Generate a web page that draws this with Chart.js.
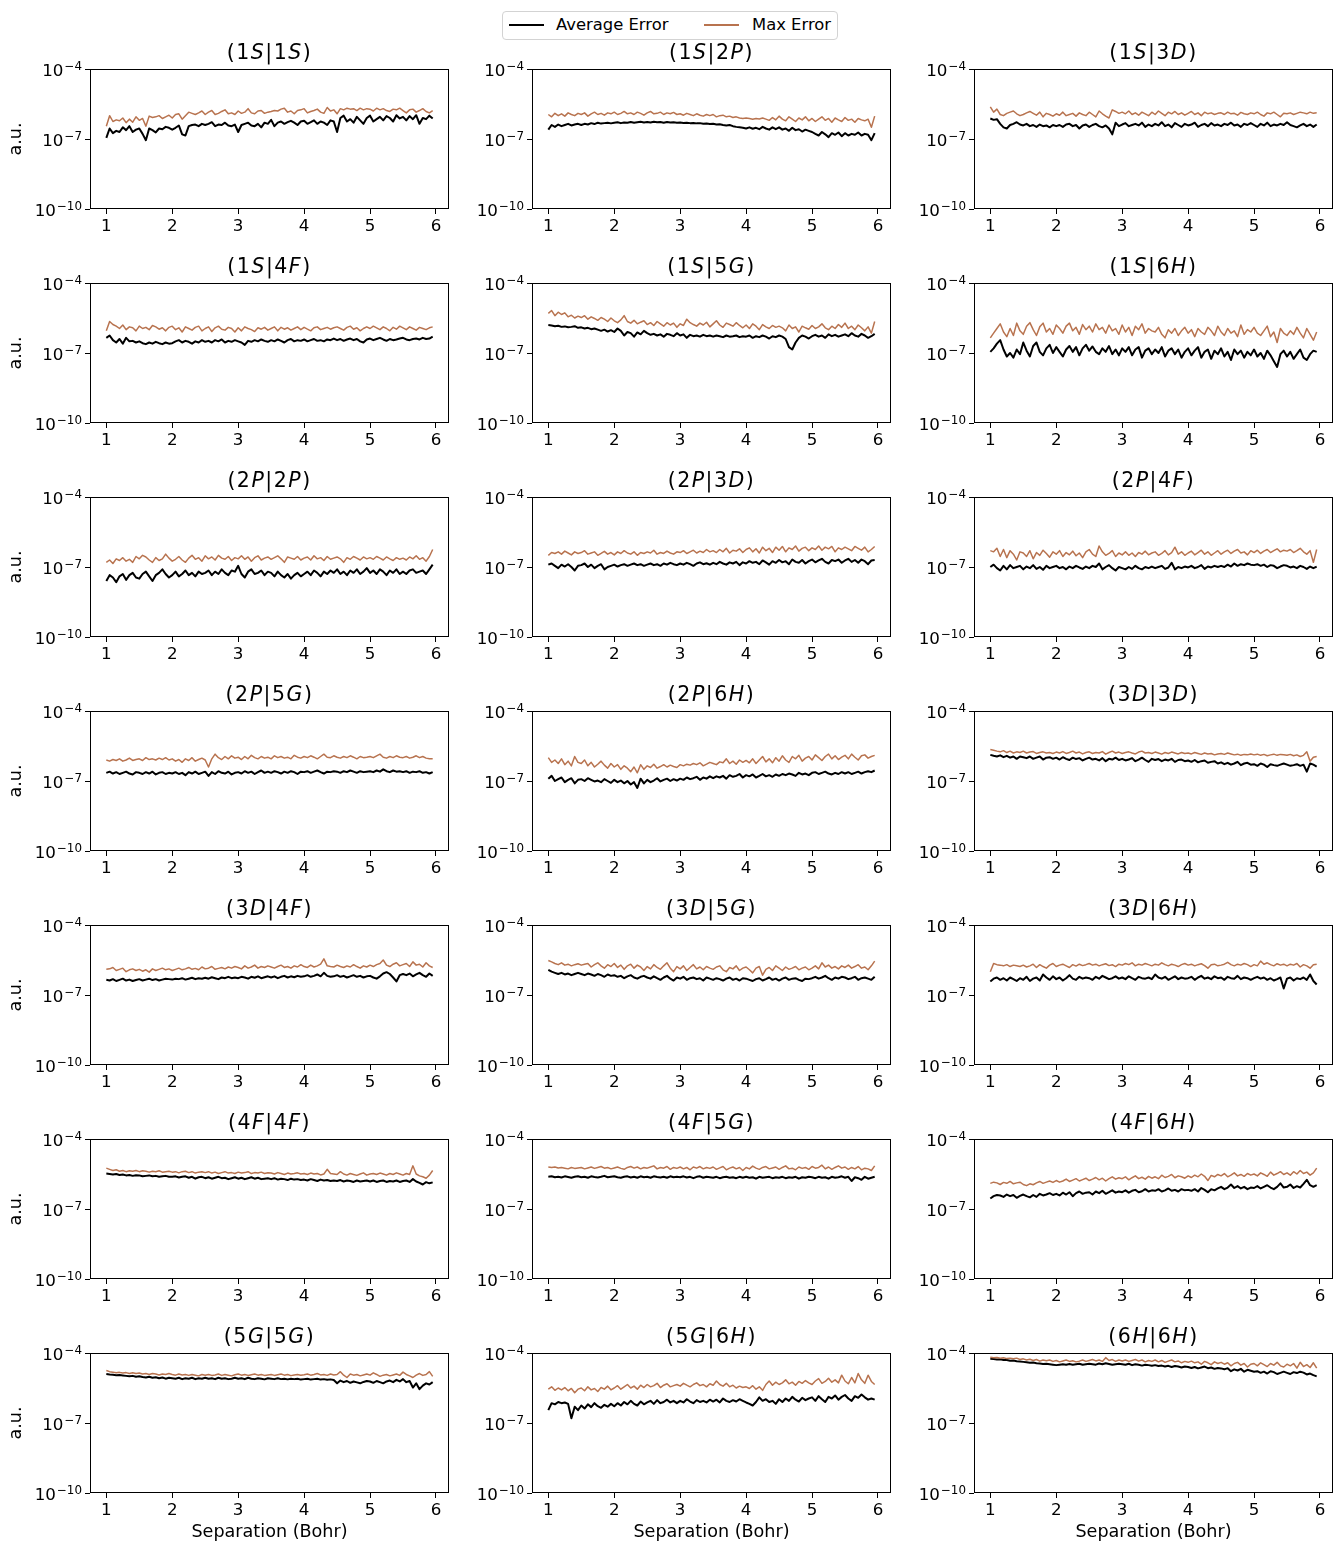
<!DOCTYPE html>
<html>
<head>
<meta charset="utf-8">
<script src="https://cdn.jsdelivr.net/npm/chart.js@4.4.0/dist/chart.umd.min.js"></script>
<style>
  body { margin: 0; background: #fff; font-family: "DejaVu Sans", sans-serif; }
  #fig { position: relative; width: 1336px; height: 1545px; overflow: hidden; background: #fff; }
  #fig canvas { position: absolute; }
  .ttl { position: absolute; width: 359px; text-align: center; font-size: 20.5px; line-height: 20px;
         letter-spacing: 1.5px; color: #000; white-space: nowrap; }
  #legend { position: absolute; left: 502px; top: 11px; width: 334px; height: 27px;
            border: 1px solid #d3d3d3; border-radius: 4px; background: #fff; }
  .lg-line { position: absolute; top: 12px; width: 35px; }
  .lg-txt { position: absolute; top: 3px; font-size: 16.4px; line-height: 20px; color: #000; white-space: nowrap; }
</style>
</head>
<body>
<div id="fig">
  <div id="legend">
    <span class="lg-line" style="left:6px;height:2px;background:#000"></span>
    <span class="lg-txt" style="left:53px">Average Error</span>
    <span class="lg-line" style="left:201px;height:1.5px;background:#b8734f"></span>
    <span class="lg-txt" style="left:249px">Max Error</span>
  </div>
</div>
<script>
// Separation values (Bohr)
const SEP = [
  1.00, 1.05, 1.10, 1.15, 1.20, 1.25, 1.30, 1.35, 1.40, 1.45,
  1.50, 1.55, 1.60, 1.65, 1.70, 1.75, 1.80, 1.85, 1.90, 1.95,
  2.00, 2.05, 2.10, 2.15, 2.20, 2.25, 2.30, 2.35, 2.40, 2.45,
  2.50, 2.55, 2.60, 2.65, 2.70, 2.75, 2.80, 2.85, 2.90, 2.95,
  3.00, 3.05, 3.10, 3.15, 3.20, 3.25, 3.30, 3.35, 3.40, 3.45,
  3.50, 3.55, 3.60, 3.65, 3.70, 3.75, 3.80, 3.85, 3.90, 3.95,
  4.00, 4.05, 4.10, 4.15, 4.20, 4.25, 4.30, 4.35, 4.40, 4.45,
  4.50, 4.55, 4.60, 4.65, 4.70, 4.75, 4.80, 4.85, 4.90, 4.95,
  5.00, 5.05, 5.10, 5.15, 5.20, 5.25, 5.30, 5.35, 5.40, 5.45,
  5.50, 5.55, 5.60, 5.65, 5.70, 5.75, 5.80, 5.85, 5.90, 5.95
];

// All errors stored as log10(a.u.)
const AVG_1S_1S = [
  -6.95,-6.55,-6.75,-6.65,-6.70,-6.50,-6.62,-6.45,-6.70,-6.60,
  -6.55,-6.78,-7.05,-6.55,-6.62,-6.72,-6.55,-6.58,-6.48,-6.52,
  -6.60,-6.52,-6.42,-6.80,-6.85,-6.45,-6.40,-6.38,-6.45,-6.35,
  -6.40,-6.35,-6.28,-6.45,-6.38,-6.40,-6.30,-6.42,-6.45,-6.38,
  -6.70,-6.40,-6.35,-6.30,-6.42,-6.45,-6.35,-6.50,-6.30,-6.35,
  -6.18,-6.45,-6.30,-6.25,-6.35,-6.28,-6.22,-6.30,-6.40,-6.25,
  -6.22,-6.35,-6.28,-6.20,-6.35,-6.25,-6.30,-6.40,-6.20,-6.25,
  -6.70,-6.10,-6.00,-6.25,-6.15,-6.30,-6.05,-6.20,-6.35,-6.10,
  -6.00,-6.25,-6.15,-6.05,-6.20,-6.02,-6.10,-6.25,-5.98,-6.12,
  -6.05,-6.20,-6.02,-6.15,-5.98,-6.35,-6.10,-6.15,-6.00,-6.12
];
const MAX_1S_1S = [
  -6.45,-6.00,-6.25,-6.18,-6.22,-6.10,-6.30,-6.15,-6.28,-6.05,
  -6.20,-6.12,-6.45,-6.02,-6.08,-6.05,-6.00,-6.12,-6.05,-5.98,
  -6.10,-5.95,-5.92,-6.15,-6.00,-5.85,-5.90,-5.95,-5.88,-5.80,
  -5.95,-5.85,-5.78,-5.95,-5.90,-5.82,-5.75,-5.92,-5.88,-5.95,
  -5.80,-5.90,-5.85,-5.70,-5.88,-5.92,-5.80,-5.78,-5.90,-5.85,
  -5.82,-5.78,-5.80,-5.72,-5.68,-5.85,-5.80,-5.92,-5.78,-5.75,
  -5.70,-5.88,-5.82,-5.78,-5.72,-5.85,-5.90,-5.65,-5.80,-5.75,
  -5.92,-5.70,-5.75,-5.68,-5.72,-5.70,-5.78,-5.68,-5.75,-5.70,
  -5.72,-5.80,-5.68,-5.75,-5.70,-5.78,-5.82,-5.72,-5.75,-5.68,
  -5.78,-5.88,-5.75,-5.72,-5.85,-5.78,-5.70,-5.82,-5.88,-5.78
];

const AVG_1S_2P = [
  -6.60,-6.40,-6.48,-6.38,-6.45,-6.40,-6.35,-6.42,-6.38,-6.35,
  -6.40,-6.35,-6.38,-6.32,-6.36,-6.30,-6.34,-6.32,-6.30,-6.33,
  -6.30,-6.28,-6.32,-6.29,-6.30,-6.27,-6.30,-6.28,-6.26,-6.29,
  -6.27,-6.29,-6.26,-6.28,-6.27,-6.30,-6.27,-6.29,-6.28,-6.30,
  -6.29,-6.31,-6.30,-6.32,-6.31,-6.33,-6.32,-6.35,-6.34,-6.36,
  -6.35,-6.38,-6.37,-6.40,-6.42,-6.40,-6.45,-6.48,-6.50,-6.52,
  -6.55,-6.50,-6.56,-6.52,-6.58,-6.48,-6.55,-6.60,-6.50,-6.58,
  -6.50,-6.60,-6.55,-6.65,-6.52,-6.62,-6.58,-6.68,-6.60,-6.65,
  -6.70,-6.78,-6.85,-6.70,-6.80,-6.92,-6.75,-6.82,-6.72,-6.88,
  -6.75,-6.85,-6.78,-6.82,-6.72,-6.85,-6.78,-6.82,-7.05,-6.75
];
const MAX_1S_2P = [
  -5.95,-6.05,-5.90,-6.00,-5.92,-6.02,-5.88,-5.95,-6.00,-5.90,
  -5.95,-5.88,-6.02,-5.92,-5.85,-5.95,-5.90,-5.98,-5.88,-5.92,
  -5.85,-5.95,-5.90,-5.82,-5.92,-5.88,-5.95,-5.85,-5.90,-5.98,
  -5.88,-5.82,-5.92,-5.90,-5.85,-5.95,-5.88,-5.92,-5.86,-5.95,
  -5.92,-5.98,-5.90,-5.95,-6.00,-5.92,-5.98,-6.02,-5.95,-6.00,
  -5.95,-6.05,-6.00,-5.98,-6.05,-6.02,-6.08,-6.05,-6.10,-6.12,
  -6.10,-6.12,-6.15,-6.12,-6.14,-6.10,-6.15,-6.20,-6.08,-6.18,
  -6.02,-6.15,-6.22,-6.05,-6.15,-6.25,-6.10,-6.18,-6.05,-6.22,
  -6.12,-6.25,-6.15,-6.05,-6.20,-6.12,-6.28,-6.10,-6.18,-6.25,
  -6.08,-6.20,-6.15,-6.28,-6.12,-6.18,-6.22,-6.15,-6.50,-6.02
];

const AVG_1S_3D = [
  -6.12,-6.18,-6.15,-6.35,-6.50,-6.55,-6.40,-6.35,-6.28,-6.38,
  -6.42,-6.35,-6.45,-6.40,-6.48,-6.38,-6.45,-6.42,-6.50,-6.40,
  -6.45,-6.40,-6.48,-6.38,-6.35,-6.45,-6.40,-6.55,-6.42,-6.38,
  -6.48,-6.40,-6.35,-6.45,-6.50,-6.42,-6.55,-6.80,-6.30,-6.45,
  -6.38,-6.32,-6.45,-6.40,-6.35,-6.42,-6.30,-6.48,-6.38,-6.45,
  -6.35,-6.42,-6.28,-6.45,-6.38,-6.50,-6.32,-6.40,-6.48,-6.35,
  -6.42,-6.38,-6.30,-6.48,-6.40,-6.35,-6.45,-6.32,-6.42,-6.38,
  -6.45,-6.35,-6.40,-6.30,-6.42,-6.38,-6.48,-6.35,-6.40,-6.32,
  -6.40,-6.48,-6.35,-6.42,-6.30,-6.45,-6.38,-6.42,-6.35,-6.40,
  -6.28,-6.40,-6.45,-6.50,-6.42,-6.35,-6.45,-6.38,-6.48,-6.38
];
const MAX_1S_3D = [
  -5.62,-5.85,-5.72,-5.95,-6.00,-5.90,-5.85,-5.80,-5.92,-6.00,
  -5.95,-5.88,-5.82,-5.90,-5.98,-5.85,-6.05,-5.90,-5.95,-6.02,
  -5.92,-5.98,-5.85,-6.00,-5.95,-5.90,-6.02,-5.88,-5.95,-6.00,
  -5.85,-5.95,-6.05,-5.80,-5.92,-6.02,-6.10,-5.75,-5.82,-5.90,
  -5.85,-5.92,-5.80,-5.95,-5.88,-5.98,-5.85,-5.92,-6.00,-5.85,
  -5.95,-5.80,-5.90,-6.00,-5.85,-5.92,-5.82,-5.95,-5.88,-5.98,
  -5.90,-5.82,-5.95,-5.88,-6.00,-5.85,-5.92,-5.88,-5.95,-5.90,
  -5.88,-5.95,-5.85,-5.92,-5.90,-5.98,-5.86,-5.92,-5.95,-5.88,
  -5.92,-5.85,-5.95,-6.02,-5.88,-5.92,-5.85,-5.95,-6.05,-5.90,
  -5.92,-5.88,-5.95,-5.90,-5.85,-5.88,-5.92,-5.85,-5.90,-5.88
];

const AVG_1S_4F = [
  -6.35,-6.25,-6.45,-6.55,-6.40,-6.60,-6.35,-6.50,-6.48,-6.55,
  -6.50,-6.58,-6.62,-6.55,-6.60,-6.52,-6.58,-6.62,-6.55,-6.60,
  -6.58,-6.50,-6.45,-6.55,-6.48,-6.52,-6.60,-6.50,-6.55,-6.45,
  -6.52,-6.48,-6.55,-6.45,-6.50,-6.42,-6.55,-6.48,-6.52,-6.45,
  -6.50,-6.55,-6.65,-6.48,-6.52,-6.45,-6.50,-6.42,-6.48,-6.52,
  -6.45,-6.50,-6.42,-6.48,-6.55,-6.45,-6.40,-6.50,-6.45,-6.48,
  -6.42,-6.50,-6.45,-6.40,-6.48,-6.45,-6.50,-6.42,-6.45,-6.38,
  -6.45,-6.40,-6.48,-6.42,-6.38,-6.45,-6.40,-6.50,-6.55,-6.42,
  -6.38,-6.45,-6.40,-6.35,-6.42,-6.48,-6.40,-6.45,-6.42,-6.38,
  -6.35,-6.42,-6.45,-6.40,-6.38,-6.42,-6.35,-6.40,-6.38,-6.30
];
const MAX_1S_4F = [
  -6.05,-5.65,-5.78,-5.85,-5.95,-5.80,-6.00,-5.88,-5.92,-6.05,
  -5.85,-5.95,-5.90,-6.00,-5.82,-5.88,-5.98,-5.92,-6.05,-5.90,
  -5.85,-6.00,-5.92,-6.10,-5.88,-5.95,-6.02,-5.90,-5.85,-6.05,
  -5.95,-5.88,-6.08,-5.92,-5.85,-5.98,-6.02,-5.90,-5.95,-6.10,
  -5.92,-6.05,-5.88,-5.95,-6.00,-6.08,-5.92,-5.98,-5.90,-6.02,
  -5.95,-5.88,-6.05,-5.90,-5.98,-5.92,-6.02,-5.95,-5.88,-6.00,
  -5.90,-5.98,-6.05,-5.92,-5.88,-6.00,-5.95,-5.90,-5.98,-5.92,
  -5.88,-5.95,-6.02,-5.90,-5.85,-5.98,-5.92,-6.05,-5.95,-5.88,
  -5.95,-5.85,-5.92,-6.00,-5.88,-5.95,-6.05,-5.90,-5.98,-5.85,
  -5.92,-6.00,-5.88,-5.95,-6.02,-5.90,-5.95,-6.00,-5.92,-5.88
];

const AVG_1S_5G = [
  -5.80,-5.82,-5.85,-5.83,-5.88,-5.86,-5.90,-5.88,-5.85,-5.92,
  -5.90,-5.95,-5.92,-5.98,-5.95,-6.00,-6.05,-6.00,-6.08,-6.02,
  -6.10,-5.95,-6.05,-6.25,-6.10,-6.15,-6.30,-6.12,-6.20,-6.05,
  -6.15,-6.22,-6.18,-6.25,-6.20,-6.30,-6.18,-6.22,-6.28,-6.15,
  -6.25,-6.20,-6.35,-6.22,-6.28,-6.25,-6.30,-6.22,-6.28,-6.25,
  -6.30,-6.25,-6.28,-6.32,-6.25,-6.30,-6.28,-6.25,-6.32,-6.28,
  -6.30,-6.25,-6.35,-6.28,-6.32,-6.25,-6.30,-6.38,-6.28,-6.32,
  -6.25,-6.30,-6.40,-6.75,-6.85,-6.55,-6.35,-6.25,-6.30,-6.38,
  -6.28,-6.22,-6.30,-6.25,-6.35,-6.20,-6.28,-6.22,-6.30,-6.25,
  -6.20,-6.28,-6.15,-6.25,-6.30,-6.18,-6.25,-6.35,-6.28,-6.18
];
const MAX_1S_5G = [
  -5.30,-5.18,-5.40,-5.25,-5.35,-5.28,-5.45,-5.38,-5.50,-5.42,
  -5.48,-5.40,-5.55,-5.45,-5.52,-5.60,-5.48,-5.55,-5.65,-5.50,
  -5.62,-5.70,-5.58,-5.40,-5.65,-5.72,-5.60,-5.75,-5.68,-5.62,
  -5.78,-5.70,-5.82,-5.65,-5.75,-5.85,-5.70,-5.80,-5.72,-5.90,
  -5.75,-5.82,-5.55,-5.70,-5.78,-5.85,-5.72,-5.80,-5.68,-5.88,
  -5.75,-5.62,-5.80,-5.90,-5.72,-5.78,-5.85,-5.70,-5.82,-5.92,
  -5.80,-5.95,-5.75,-5.85,-6.00,-5.78,-5.88,-5.95,-5.82,-5.90,
  -5.85,-5.92,-6.05,-5.80,-5.95,-5.88,-6.10,-5.85,-5.92,-5.98,
  -5.82,-5.95,-5.88,-5.75,-5.92,-6.00,-5.85,-5.95,-5.78,-5.90,
  -5.72,-5.95,-5.85,-6.00,-5.80,-5.92,-6.05,-5.88,-6.15,-5.65
];

const AVG_1S_6H = [
  -6.95,-6.80,-6.60,-6.45,-6.85,-7.15,-7.00,-7.20,-6.85,-7.05,
  -6.55,-6.90,-7.15,-6.70,-6.55,-6.95,-7.10,-6.80,-6.65,-7.00,
  -6.75,-6.95,-7.15,-6.85,-6.70,-6.95,-6.75,-7.10,-6.80,-6.65,
  -6.90,-6.72,-6.95,-7.05,-6.80,-6.95,-6.70,-7.05,-6.85,-7.10,
  -6.80,-6.95,-6.75,-7.10,-6.85,-6.75,-7.20,-6.90,-6.80,-7.05,
  -6.85,-7.00,-6.75,-7.15,-6.90,-6.80,-7.05,-6.85,-7.20,-6.95,
  -6.80,-7.10,-6.90,-6.75,-7.20,-6.95,-6.85,-7.25,-6.90,-7.05,
  -6.80,-7.15,-6.95,-7.30,-6.85,-7.05,-6.90,-7.20,-6.95,-7.10,
  -6.85,-7.15,-7.00,-7.25,-6.90,-7.10,-7.35,-7.60,-7.05,-6.90,
  -7.15,-6.95,-7.25,-7.05,-6.85,-7.20,-7.30,-7.05,-6.90,-6.95
];
const MAX_1S_6H = [
  -6.35,-6.15,-5.95,-5.75,-6.10,-6.30,-5.95,-6.25,-5.72,-6.05,
  -6.20,-5.85,-5.70,-6.00,-6.25,-5.88,-5.72,-6.10,-5.95,-6.20,
  -5.80,-5.95,-6.15,-5.85,-5.72,-6.05,-5.90,-6.20,-5.78,-6.00,
  -5.85,-6.10,-5.75,-6.00,-5.90,-6.15,-5.80,-6.05,-5.95,-6.20,
  -5.80,-6.10,-5.90,-6.25,-5.85,-6.00,-5.75,-6.15,-5.95,-6.05,
  -6.10,-5.90,-6.20,-6.35,-6.00,-6.15,-5.95,-6.25,-6.05,-5.90,
  -6.15,-6.00,-6.30,-5.95,-6.10,-6.20,-5.90,-6.05,-6.25,-5.85,
  -6.10,-6.25,-5.95,-6.15,-6.05,-6.30,-5.80,-6.20,-6.00,-6.10,
  -5.90,-6.15,-6.25,-6.05,-5.85,-6.30,-6.10,-6.55,-5.95,-6.15,
  -6.25,-6.05,-6.20,-5.90,-6.15,-6.35,-5.95,-6.20,-6.45,-6.10
];

const AVG_2P_2P = [
  -7.60,-7.35,-7.45,-7.65,-7.40,-7.30,-7.55,-7.35,-7.25,-7.45,
  -7.50,-7.30,-7.20,-7.40,-7.60,-7.35,-7.25,-7.10,-7.30,-7.45,
  -7.35,-7.20,-7.40,-7.30,-7.15,-7.35,-7.25,-7.40,-7.20,-7.30,
  -7.25,-7.15,-7.35,-7.20,-7.30,-7.10,-7.25,-7.35,-7.15,-7.20,
  -6.95,-7.30,-7.45,-7.20,-7.10,-7.30,-7.25,-7.15,-7.35,-7.20,
  -7.25,-7.40,-7.20,-7.35,-7.45,-7.30,-7.50,-7.35,-7.25,-7.40,
  -7.30,-7.20,-7.35,-7.15,-7.25,-7.40,-7.20,-7.30,-7.15,-7.25,
  -7.10,-7.30,-7.20,-7.35,-7.15,-7.25,-7.10,-7.30,-7.20,-7.05,
  -7.25,-7.15,-7.30,-7.10,-7.20,-7.35,-7.15,-7.25,-7.10,-7.30,
  -7.20,-7.30,-7.15,-7.10,-7.25,-7.20,-7.15,-7.30,-7.10,-6.90
];
const MAX_2P_2P = [
  -6.80,-6.70,-6.85,-6.65,-6.72,-6.60,-6.75,-6.67,-6.80,-6.55,
  -6.65,-6.50,-6.57,-6.70,-6.80,-6.60,-6.72,-6.65,-6.45,-6.62,
  -6.75,-6.67,-6.55,-6.70,-6.80,-6.62,-6.50,-6.67,-6.60,-6.75,
  -6.52,-6.65,-6.57,-6.70,-6.50,-6.62,-6.67,-6.55,-6.72,-6.60,
  -6.65,-6.52,-6.67,-6.57,-6.75,-6.60,-6.52,-6.70,-6.62,-6.57,
  -6.67,-6.60,-6.52,-6.65,-6.80,-6.57,-6.62,-6.67,-6.55,-6.70,
  -6.62,-6.57,-6.70,-6.52,-6.65,-6.60,-6.72,-6.55,-6.67,-6.62,
  -6.57,-6.65,-6.80,-6.60,-6.67,-6.55,-6.62,-6.70,-6.57,-6.65,
  -6.60,-6.67,-6.55,-6.62,-6.70,-6.57,-6.65,-6.72,-6.60,-6.67,
  -6.62,-6.70,-6.57,-6.65,-6.52,-6.67,-6.60,-6.75,-6.55,-6.25
];

const AVG_2P_3D = [
  -6.90,-6.85,-6.95,-7.05,-6.90,-6.98,-6.88,-7.00,-7.15,-6.95,
  -6.92,-6.85,-7.00,-6.90,-7.05,-6.95,-6.88,-7.10,-7.00,-6.95,
  -6.90,-6.98,-6.92,-6.88,-6.95,-6.90,-6.85,-6.92,-6.88,-6.95,
  -6.90,-6.85,-6.92,-6.88,-6.95,-6.85,-6.90,-6.82,-6.88,-6.92,
  -6.85,-6.90,-6.82,-6.88,-6.95,-6.85,-6.80,-6.88,-6.84,-6.90,
  -6.82,-6.88,-6.78,-6.85,-6.90,-6.80,-6.85,-6.78,-6.92,-6.80,
  -6.85,-6.75,-6.82,-6.78,-6.88,-6.72,-6.80,-6.90,-6.75,-6.82,
  -6.70,-6.80,-6.75,-6.88,-6.68,-6.78,-6.82,-6.70,-6.85,-6.75,
  -6.68,-6.80,-6.72,-6.65,-6.78,-6.85,-6.70,-6.75,-6.68,-6.82,
  -6.72,-6.65,-6.78,-6.70,-6.82,-6.68,-6.75,-6.88,-6.72,-6.70
];
const MAX_2P_3D = [
  -6.50,-6.38,-6.42,-6.35,-6.45,-6.32,-6.40,-6.48,-6.35,-6.42,
  -6.38,-6.30,-6.45,-6.40,-6.35,-6.50,-6.42,-6.33,-6.45,-6.38,
  -6.48,-6.35,-6.42,-6.30,-6.40,-6.45,-6.35,-6.50,-6.38,-6.42,
  -6.35,-6.40,-6.28,-6.45,-6.38,-6.42,-6.32,-6.40,-6.45,-6.35,
  -6.38,-6.30,-6.42,-6.35,-6.28,-6.40,-6.32,-6.38,-6.25,-6.35,
  -6.30,-6.38,-6.25,-6.35,-6.20,-6.40,-6.28,-6.32,-6.22,-6.38,
  -6.25,-6.18,-6.35,-6.22,-6.40,-6.15,-6.30,-6.20,-6.38,-6.15,
  -6.28,-6.12,-6.35,-6.18,-6.25,-6.10,-6.32,-6.20,-6.15,-6.30,
  -6.18,-6.25,-6.10,-6.28,-6.15,-6.22,-6.12,-6.35,-6.18,-6.25,
  -6.15,-6.22,-6.30,-6.12,-6.20,-6.28,-6.15,-6.35,-6.25,-6.12
];

const AVG_2P_4F = [
  -7.00,-6.90,-7.05,-7.15,-6.95,-7.10,-6.92,-7.05,-7.00,-6.95,
  -7.10,-6.98,-7.05,-6.92,-7.08,-7.00,-7.12,-6.95,-7.05,-7.00,
  -6.95,-7.05,-7.00,-7.10,-6.98,-7.05,-6.95,-7.02,-7.08,-6.98,
  -7.05,-6.95,-7.00,-6.85,-7.10,-7.00,-6.92,-7.05,-7.15,-7.00,
  -7.05,-7.10,-7.00,-7.08,-6.95,-7.05,-7.10,-7.00,-7.05,-6.98,
  -7.05,-7.00,-6.95,-7.08,-7.02,-6.82,-7.10,-7.00,-7.05,-6.98,
  -7.02,-6.95,-7.05,-7.00,-6.92,-7.08,-6.98,-7.02,-6.95,-7.00,
  -6.95,-7.00,-6.90,-6.98,-6.85,-6.95,-6.88,-6.92,-6.85,-6.90,
  -6.92,-6.88,-6.95,-6.90,-7.00,-6.92,-6.95,-7.05,-6.98,-6.92,
  -6.95,-7.02,-6.98,-7.05,-6.95,-7.00,-7.08,-6.98,-7.05,-6.98
];
const MAX_2P_4F = [
  -6.30,-6.35,-6.20,-6.55,-6.25,-6.60,-6.30,-6.45,-6.70,-6.35,
  -6.40,-6.55,-6.30,-6.65,-6.38,-6.50,-6.28,-6.42,-6.58,-6.35,
  -6.45,-6.30,-6.55,-6.38,-6.48,-6.32,-6.52,-6.40,-6.60,-6.35,
  -6.25,-6.45,-6.55,-6.10,-6.35,-6.50,-6.42,-6.30,-6.55,-6.40,
  -6.48,-6.35,-6.50,-6.40,-6.55,-6.38,-6.45,-6.32,-6.48,-6.40,
  -6.35,-6.50,-6.42,-6.30,-6.48,-6.38,-6.15,-6.45,-6.35,-6.50,
  -6.40,-6.32,-6.48,-6.38,-6.28,-6.45,-6.35,-6.50,-6.40,-6.30,
  -6.45,-6.35,-6.28,-6.42,-6.32,-6.25,-6.40,-6.35,-6.48,-6.30,
  -6.38,-6.28,-6.42,-6.32,-6.25,-6.38,-6.30,-6.22,-6.35,-6.28,
  -6.32,-6.25,-6.38,-6.30,-6.20,-6.35,-6.45,-6.30,-6.80,-6.25
];

const AVG_2P_5G = [
  -6.65,-6.60,-6.68,-6.62,-6.70,-6.65,-6.60,-6.68,-6.72,-6.62,
  -6.65,-6.70,-6.62,-6.68,-6.60,-6.72,-6.65,-6.62,-6.70,-6.65,
  -6.68,-6.62,-6.70,-6.65,-6.75,-6.62,-6.68,-6.60,-6.70,-6.65,
  -6.60,-6.78,-6.62,-6.70,-6.58,-6.65,-6.68,-6.60,-6.72,-6.65,
  -6.62,-6.68,-6.58,-6.65,-6.60,-6.70,-6.62,-6.55,-6.65,-6.60,
  -6.65,-6.58,-6.62,-6.68,-6.60,-6.65,-6.58,-6.62,-6.70,-6.60,
  -6.62,-6.58,-6.65,-6.60,-6.55,-6.62,-6.68,-6.60,-6.62,-6.58,
  -6.60,-6.65,-6.58,-6.62,-6.55,-6.60,-6.65,-6.58,-6.62,-6.60,
  -6.58,-6.62,-6.55,-6.60,-6.50,-6.58,-6.62,-6.55,-6.60,-6.58,
  -6.62,-6.58,-6.65,-6.60,-6.62,-6.58,-6.65,-6.62,-6.68,-6.62
];
const MAX_2P_5G = [
  -6.10,-6.15,-6.08,-6.12,-6.05,-6.15,-6.10,-6.02,-6.12,-6.08,
  -6.05,-6.12,-6.00,-6.08,-6.05,-6.10,-6.02,-6.08,-6.00,-6.10,
  -6.05,-6.15,-6.08,-6.20,-6.05,-6.12,-6.00,-6.15,-6.08,-6.02,
  -6.10,-6.40,-6.05,-5.85,-6.00,-6.08,-5.95,-6.05,-5.92,-6.02,
  -5.98,-6.08,-5.95,-6.05,-5.90,-6.00,-6.05,-5.95,-6.02,-5.98,
  -6.05,-5.92,-6.00,-5.95,-6.02,-5.98,-6.05,-5.90,-5.98,-6.02,
  -5.95,-6.00,-5.92,-5.98,-6.05,-5.95,-5.85,-5.98,-6.00,-5.92,
  -5.98,-6.02,-5.95,-6.00,-5.92,-5.98,-6.05,-5.95,-6.00,-5.98,
  -5.95,-6.00,-5.92,-5.85,-5.98,-6.02,-5.95,-6.00,-5.92,-5.98,
  -6.00,-5.95,-6.02,-5.98,-5.92,-6.00,-5.95,-6.02,-6.05,-6.05
];

const AVG_2P_6H = [
  -6.90,-6.78,-7.00,-6.92,-6.85,-7.05,-6.95,-6.88,-7.10,-6.95,
  -6.92,-7.00,-6.88,-6.95,-7.02,-6.98,-7.05,-6.92,-7.00,-7.08,
  -6.95,-7.05,-6.98,-7.10,-7.00,-7.15,-7.05,-7.30,-6.90,-7.10,
  -6.95,-7.05,-6.98,-6.88,-7.02,-6.95,-6.90,-7.00,-6.92,-6.98,
  -6.90,-6.95,-6.85,-6.92,-6.88,-6.82,-6.95,-6.85,-6.90,-6.80,
  -6.88,-6.80,-6.85,-6.78,-6.90,-6.75,-6.82,-6.78,-6.70,-6.85,
  -6.75,-6.80,-6.72,-6.85,-6.78,-6.70,-6.80,-6.75,-6.82,-6.72,
  -6.78,-6.70,-6.75,-6.68,-6.72,-6.78,-6.65,-6.72,-6.68,-6.75,
  -6.65,-6.62,-6.70,-6.65,-6.60,-6.68,-6.72,-6.65,-6.70,-6.62,
  -6.68,-6.62,-6.70,-6.65,-6.60,-6.68,-6.62,-6.58,-6.62,-6.55
];
const MAX_2P_6H = [
  -6.00,-6.20,-6.10,-6.25,-6.05,-6.30,-6.15,-6.35,-5.95,-6.20,
  -6.25,-6.10,-6.35,-6.20,-6.40,-6.28,-6.15,-6.32,-6.45,-6.25,
  -6.40,-6.30,-6.50,-6.35,-6.45,-6.60,-6.40,-6.65,-6.30,-6.50,
  -6.35,-6.42,-6.28,-6.45,-6.38,-6.30,-6.40,-6.32,-6.38,-6.42,
  -6.30,-6.35,-6.28,-6.32,-6.25,-6.30,-6.22,-6.35,-6.28,-6.20,
  -6.25,-6.30,-6.18,-6.22,-6.05,-6.25,-6.15,-6.28,-6.10,-6.20,
  -6.12,-6.22,-6.05,-6.25,-6.10,-5.95,-6.18,-6.05,-6.22,-6.00,
  -6.15,-5.92,-6.10,-6.20,-5.95,-6.05,-5.90,-6.15,-6.02,-5.95,
  -6.10,-5.88,-6.00,-6.12,-5.95,-5.85,-6.05,-5.92,-6.08,-5.98,
  -5.90,-6.05,-5.85,-5.98,-6.10,-5.92,-5.88,-6.02,-5.95,-5.90
];

const AVG_3D_3D = [
  -5.88,-5.92,-5.95,-5.90,-5.98,-5.92,-6.00,-5.95,-6.05,-5.95,
  -5.98,-6.02,-5.95,-6.05,-6.00,-5.95,-6.08,-6.00,-5.98,-6.05,
  -6.00,-6.08,-5.98,-6.05,-6.10,-6.00,-6.06,-6.02,-6.12,-6.05,
  -6.00,-6.08,-6.05,-6.12,-6.02,-6.15,-6.05,-6.08,-6.00,-6.10,
  -6.05,-6.12,-6.08,-6.02,-6.15,-6.08,-6.00,-6.10,-6.18,-6.05,
  -6.10,-6.06,-6.15,-6.08,-6.12,-6.05,-6.18,-6.10,-6.08,-6.15,
  -6.12,-6.18,-6.10,-6.20,-6.15,-6.12,-6.22,-6.18,-6.15,-6.25,
  -6.20,-6.28,-6.22,-6.30,-6.25,-6.18,-6.32,-6.25,-6.22,-6.30,
  -6.28,-6.35,-6.25,-6.30,-6.40,-6.28,-6.32,-6.35,-6.30,-6.25,
  -6.30,-6.35,-6.32,-6.28,-6.35,-6.30,-6.60,-6.25,-6.30,-6.38
];
const MAX_3D_3D = [
  -5.65,-5.68,-5.72,-5.75,-5.70,-5.78,-5.72,-5.80,-5.75,-5.78,
  -5.72,-5.80,-5.76,-5.74,-5.82,-5.78,-5.75,-5.80,-5.78,-5.82,
  -5.76,-5.80,-5.74,-5.82,-5.78,-5.72,-5.80,-5.76,-5.84,-5.78,
  -5.75,-5.82,-5.78,-5.80,-5.74,-5.85,-5.78,-5.72,-5.80,-5.76,
  -5.82,-5.78,-5.75,-5.80,-5.84,-5.76,-5.72,-5.80,-5.78,-5.82,
  -5.76,-5.80,-5.85,-5.78,-5.82,-5.76,-5.80,-5.84,-5.78,-5.82,
  -5.80,-5.84,-5.78,-5.82,-5.86,-5.80,-5.84,-5.82,-5.88,-5.84,
  -5.82,-5.86,-5.80,-5.84,-5.88,-5.85,-5.90,-5.86,-5.88,-5.84,
  -5.88,-5.85,-5.90,-5.86,-5.92,-5.88,-5.85,-5.90,-5.86,-5.88,
  -5.90,-5.86,-5.92,-5.88,-5.95,-5.90,-5.75,-6.15,-5.98,-5.95
];

const AVG_3D_4F = [
  -6.35,-6.38,-6.32,-6.40,-6.35,-6.30,-6.38,-6.34,-6.40,-6.36,
  -6.32,-6.38,-6.34,-6.30,-6.36,-6.32,-6.38,-6.34,-6.30,-6.32,
  -6.34,-6.30,-6.32,-6.28,-6.34,-6.30,-6.26,-6.32,-6.28,-6.30,
  -6.26,-6.30,-6.24,-6.28,-6.32,-6.25,-6.28,-6.22,-6.28,-6.25,
  -6.28,-6.22,-6.25,-6.30,-6.22,-6.26,-6.20,-6.28,-6.24,-6.20,
  -6.25,-6.20,-6.28,-6.22,-6.18,-6.25,-6.20,-6.24,-6.18,-6.22,
  -6.20,-6.15,-6.22,-6.18,-6.12,-6.20,-6.05,-6.18,-6.22,-6.20,
  -6.15,-6.22,-6.18,-6.25,-6.20,-6.15,-6.22,-6.18,-6.25,-6.20,
  -6.18,-6.25,-6.30,-6.20,-6.08,-6.02,-6.10,-6.25,-6.42,-6.15,
  -6.10,-6.15,-6.08,-6.20,-6.12,-6.05,-6.15,-6.22,-6.08,-6.18
];
const MAX_3D_4F = [
  -5.90,-5.88,-5.82,-5.95,-5.90,-5.85,-6.00,-5.92,-5.88,-5.95,
  -5.90,-5.98,-5.92,-6.02,-5.88,-5.95,-5.90,-5.85,-5.92,-5.88,
  -5.95,-5.90,-5.85,-5.92,-5.88,-5.82,-5.90,-5.86,-5.92,-5.80,
  -5.88,-5.85,-5.78,-5.90,-5.86,-5.82,-5.88,-5.80,-5.85,-5.78,
  -5.82,-5.88,-5.75,-5.85,-5.80,-5.72,-5.85,-5.78,-5.82,-5.75,
  -5.80,-5.85,-5.78,-5.72,-5.82,-5.78,-5.85,-5.75,-5.80,-5.70,
  -5.78,-5.82,-5.72,-5.80,-5.75,-5.68,-5.45,-5.75,-5.78,-5.80,
  -5.72,-5.78,-5.82,-5.75,-5.80,-5.70,-5.78,-5.85,-5.75,-5.80,
  -5.72,-5.78,-5.70,-5.65,-5.50,-5.72,-5.78,-5.68,-5.62,-5.75,
  -5.70,-5.65,-5.78,-5.58,-5.72,-5.68,-5.80,-5.62,-5.75,-5.82
];

const AVG_3D_5G = [
  -5.92,-6.00,-6.05,-6.10,-6.05,-6.12,-6.08,-6.15,-6.10,-6.05,
  -6.10,-6.15,-6.08,-6.12,-6.18,-6.10,-6.15,-6.22,-6.12,-6.18,
  -6.15,-6.22,-6.18,-6.28,-6.20,-6.15,-6.25,-6.30,-6.22,-6.18,
  -6.25,-6.30,-6.20,-6.28,-6.35,-6.25,-6.18,-6.30,-6.38,-6.25,
  -6.30,-6.22,-6.35,-6.28,-6.25,-6.32,-6.28,-6.38,-6.25,-6.30,
  -6.35,-6.28,-6.32,-6.38,-6.30,-6.25,-6.35,-6.30,-6.38,-6.28,
  -6.30,-6.35,-6.40,-6.32,-6.28,-6.38,-6.32,-6.25,-6.35,-6.30,
  -6.38,-6.30,-6.25,-6.35,-6.30,-6.28,-6.35,-6.40,-6.30,-6.32,
  -6.28,-6.22,-6.30,-6.25,-6.18,-6.28,-6.35,-6.25,-6.30,-6.22,
  -6.25,-6.32,-6.28,-6.22,-6.35,-6.28,-6.25,-6.30,-6.35,-6.22
];
const MAX_3D_5G = [
  -5.52,-5.58,-5.65,-5.70,-5.62,-5.72,-5.68,-5.75,-5.70,-5.66,
  -5.72,-5.68,-5.65,-5.80,-5.70,-5.62,-5.75,-5.85,-5.70,-5.78,
  -5.65,-5.82,-5.72,-5.90,-5.75,-5.68,-5.85,-5.72,-5.80,-5.95,
  -5.78,-5.88,-5.70,-5.82,-5.90,-5.75,-5.62,-5.85,-6.00,-5.78,
  -5.88,-5.75,-5.95,-5.82,-5.70,-5.88,-5.80,-5.92,-5.78,-5.85,
  -5.90,-5.80,-5.75,-5.92,-6.00,-5.82,-5.88,-5.75,-5.95,-5.85,
  -5.80,-5.92,-6.05,-5.85,-5.78,-6.15,-5.90,-5.82,-5.95,-5.75,
  -5.85,-5.95,-5.80,-5.90,-5.85,-5.78,-5.92,-5.85,-5.80,-5.92,
  -5.85,-5.75,-5.88,-5.62,-5.80,-5.72,-5.85,-5.78,-5.88,-5.75,
  -5.82,-5.72,-5.85,-5.78,-5.70,-5.85,-5.80,-5.92,-5.75,-5.55
];

const AVG_3D_6H = [
  -6.42,-6.30,-6.25,-6.35,-6.28,-6.38,-6.25,-6.32,-6.40,-6.28,
  -6.35,-6.22,-6.40,-6.30,-6.25,-6.38,-6.12,-6.25,-6.35,-6.20,
  -6.32,-6.25,-6.38,-6.28,-6.15,-6.30,-6.35,-6.22,-6.30,-6.25,
  -6.28,-6.35,-6.22,-6.30,-6.18,-6.25,-6.32,-6.28,-6.20,-6.30,
  -6.25,-6.32,-6.20,-6.28,-6.35,-6.22,-6.28,-6.30,-6.25,-6.32,
  -6.12,-6.25,-6.30,-6.22,-6.35,-6.28,-6.20,-6.32,-6.25,-6.30,
  -6.28,-6.22,-6.35,-6.25,-6.18,-6.30,-6.25,-6.32,-6.20,-6.28,
  -6.25,-6.35,-6.22,-6.28,-6.30,-6.18,-6.32,-6.25,-6.28,-6.35,
  -6.28,-6.22,-6.30,-6.25,-6.35,-6.28,-6.38,-6.32,-6.25,-6.72,
  -6.30,-6.25,-6.38,-6.28,-6.32,-6.25,-6.35,-6.12,-6.40,-6.55
];
const MAX_3D_6H = [
  -6.00,-5.65,-5.70,-5.72,-5.75,-5.70,-5.78,-5.72,-5.75,-5.78,
  -5.72,-5.80,-5.75,-5.68,-5.82,-5.70,-5.78,-5.85,-5.72,-5.65,
  -5.78,-5.72,-5.68,-5.75,-5.82,-5.70,-5.76,-5.68,-5.74,-5.70,
  -5.65,-5.72,-5.68,-5.75,-5.70,-5.66,-5.74,-5.70,-5.78,-5.68,
  -5.72,-5.65,-5.70,-5.62,-5.75,-5.68,-5.72,-5.65,-5.70,-5.75,
  -5.68,-5.72,-5.62,-5.70,-5.75,-5.68,-5.72,-5.78,-5.70,-5.65,
  -5.72,-5.68,-5.75,-5.70,-5.66,-5.74,-5.85,-5.70,-5.68,-5.75,
  -5.72,-5.68,-5.60,-5.70,-5.75,-5.68,-5.72,-5.65,-5.70,-5.78,
  -5.70,-5.75,-5.55,-5.68,-5.62,-5.70,-5.75,-5.66,-5.72,-5.68,
  -5.75,-5.68,-5.72,-5.65,-5.80,-5.70,-5.75,-5.85,-5.70,-5.68
];

const AVG_4F_4F = [
  -5.48,-5.50,-5.52,-5.50,-5.54,-5.52,-5.56,-5.54,-5.58,-5.55,
  -5.56,-5.60,-5.58,-5.56,-5.60,-5.58,-5.62,-5.60,-5.58,-5.62,
  -5.62,-5.60,-5.65,-5.62,-5.60,-5.66,-5.62,-5.70,-5.64,-5.62,
  -5.68,-5.64,-5.70,-5.66,-5.62,-5.68,-5.66,-5.72,-5.68,-5.64,
  -5.70,-5.66,-5.72,-5.68,-5.64,-5.70,-5.66,-5.72,-5.70,-5.68,
  -5.72,-5.68,-5.74,-5.70,-5.72,-5.76,-5.70,-5.74,-5.72,-5.76,
  -5.74,-5.78,-5.72,-5.76,-5.80,-5.74,-5.78,-5.76,-5.80,-5.78,
  -5.80,-5.76,-5.82,-5.78,-5.80,-5.84,-5.78,-5.82,-5.80,-5.78,
  -5.82,-5.78,-5.84,-5.80,-5.78,-5.84,-5.80,-5.82,-5.78,-5.84,
  -5.80,-5.78,-5.84,-5.72,-5.82,-5.88,-5.95,-5.85,-5.90,-5.86
];
const MAX_4F_4F = [
  -5.25,-5.30,-5.35,-5.32,-5.38,-5.35,-5.40,-5.36,-5.38,-5.35,
  -5.40,-5.36,-5.38,-5.42,-5.38,-5.40,-5.36,-5.42,-5.40,-5.38,
  -5.42,-5.40,-5.45,-5.40,-5.38,-5.44,-5.40,-5.46,-5.42,-5.40,
  -5.44,-5.40,-5.46,-5.42,-5.48,-5.44,-5.40,-5.46,-5.44,-5.48,
  -5.42,-5.46,-5.44,-5.40,-5.48,-5.44,-5.46,-5.42,-5.48,-5.45,
  -5.46,-5.50,-5.44,-5.48,-5.52,-5.46,-5.50,-5.48,-5.45,-5.50,
  -5.48,-5.52,-5.46,-5.50,-5.48,-5.54,-5.50,-5.30,-5.48,-5.50,
  -5.52,-5.40,-5.50,-5.55,-5.48,-5.52,-5.56,-5.50,-5.45,-5.55,
  -5.50,-5.48,-5.52,-5.46,-5.50,-5.55,-5.48,-5.52,-5.45,-5.50,
  -5.55,-5.48,-5.52,-5.15,-5.50,-5.58,-5.62,-5.68,-5.55,-5.35
];

const AVG_4F_5G = [
  -5.62,-5.60,-5.64,-5.62,-5.65,-5.60,-5.63,-5.66,-5.62,-5.60,
  -5.64,-5.62,-5.66,-5.60,-5.63,-5.65,-5.62,-5.58,-5.64,-5.62,
  -5.60,-5.64,-5.66,-5.62,-5.60,-5.65,-5.62,-5.66,-5.60,-5.64,
  -5.62,-5.66,-5.60,-5.63,-5.65,-5.62,-5.66,-5.60,-5.64,-5.62,
  -5.64,-5.60,-5.65,-5.62,-5.68,-5.62,-5.60,-5.66,-5.62,-5.64,
  -5.66,-5.62,-5.68,-5.64,-5.62,-5.66,-5.64,-5.68,-5.62,-5.66,
  -5.62,-5.66,-5.64,-5.70,-5.62,-5.66,-5.64,-5.62,-5.68,-5.64,
  -5.66,-5.62,-5.68,-5.64,-5.66,-5.62,-5.70,-5.64,-5.66,-5.62,
  -5.64,-5.68,-5.62,-5.66,-5.64,-5.70,-5.62,-5.66,-5.64,-5.60,
  -5.66,-5.62,-5.80,-5.64,-5.68,-5.75,-5.62,-5.70,-5.66,-5.62
];
const MAX_4F_5G = [
  -5.20,-5.22,-5.20,-5.24,-5.22,-5.25,-5.28,-5.22,-5.26,-5.24,
  -5.22,-5.28,-5.24,-5.20,-5.26,-5.22,-5.18,-5.25,-5.22,-5.28,
  -5.24,-5.20,-5.26,-5.30,-5.22,-5.18,-5.25,-5.20,-5.28,-5.22,
  -5.25,-5.20,-5.15,-5.28,-5.22,-5.25,-5.18,-5.30,-5.22,-5.26,
  -5.20,-5.28,-5.22,-5.32,-5.20,-5.25,-5.18,-5.28,-5.22,-5.26,
  -5.20,-5.30,-5.24,-5.18,-5.32,-5.25,-5.20,-5.28,-5.22,-5.35,
  -5.22,-5.28,-5.16,-5.25,-5.30,-5.22,-5.18,-5.28,-5.24,-5.20,
  -5.30,-5.22,-5.15,-5.28,-5.25,-5.32,-5.20,-5.26,-5.22,-5.30,
  -5.18,-5.25,-5.22,-5.12,-5.28,-5.20,-5.30,-5.22,-5.15,-5.25,
  -5.20,-5.30,-5.22,-5.28,-5.18,-5.32,-5.25,-5.28,-5.35,-5.15
];

const AVG_4F_6H = [
  -6.55,-6.45,-6.40,-6.42,-6.48,-6.38,-6.45,-6.40,-6.52,-6.44,
  -6.38,-6.45,-6.50,-6.40,-6.48,-6.35,-6.42,-6.38,-6.32,-6.40,
  -6.35,-6.42,-6.30,-6.38,-6.28,-6.45,-6.32,-6.25,-6.35,-6.30,
  -6.28,-6.38,-6.25,-6.32,-6.22,-6.35,-6.28,-6.20,-6.30,-6.25,
  -6.28,-6.20,-6.30,-6.22,-6.18,-6.28,-6.24,-6.15,-6.25,-6.20,
  -6.22,-6.15,-6.25,-6.20,-6.12,-6.22,-6.18,-6.25,-6.15,-6.20,
  -6.18,-6.22,-6.15,-6.25,-6.10,-6.18,-6.28,-6.15,-6.20,-6.12,
  -6.05,-6.15,-6.08,-5.95,-6.10,-6.02,-6.12,-6.05,-6.15,-6.08,
  -6.10,-6.02,-6.12,-6.05,-5.98,-6.08,-6.15,-6.05,-5.90,-6.08,
  -6.05,-5.95,-6.10,-6.02,-6.08,-5.92,-5.75,-5.98,-6.05,-5.98
];
const MAX_4F_6H = [
  -5.90,-5.85,-5.88,-5.95,-5.86,-5.90,-5.82,-5.92,-5.88,-5.85,
  -5.95,-6.00,-5.92,-5.96,-5.88,-5.82,-5.90,-5.85,-5.80,-5.86,
  -5.78,-5.85,-5.80,-5.72,-5.82,-5.76,-5.70,-5.80,-5.74,-5.68,
  -5.78,-5.72,-5.65,-5.75,-5.68,-5.80,-5.70,-5.62,-5.72,-5.66,
  -5.70,-5.62,-5.75,-5.66,-5.58,-5.70,-5.64,-5.72,-5.60,-5.68,
  -5.62,-5.70,-5.55,-5.65,-5.60,-5.52,-5.66,-5.58,-5.62,-5.68,
  -5.58,-5.65,-5.55,-5.62,-5.50,-5.60,-5.78,-5.56,-5.62,-5.52,
  -5.58,-5.48,-5.62,-5.55,-5.45,-5.58,-5.52,-5.60,-5.48,-5.55,
  -5.50,-5.58,-5.45,-5.52,-5.60,-5.42,-5.55,-5.48,-5.40,-5.52,
  -5.45,-5.55,-5.40,-5.50,-5.35,-5.48,-5.42,-5.55,-5.45,-5.25
];

const AVG_5G_5G = [
  -4.90,-4.92,-4.93,-4.95,-4.94,-4.96,-4.98,-5.00,-4.98,-5.02,
  -5.00,-5.03,-5.05,-5.02,-5.06,-5.04,-5.08,-5.05,-5.10,-5.06,
  -5.08,-5.10,-5.06,-5.12,-5.08,-5.10,-5.06,-5.12,-5.08,-5.10,
  -5.06,-5.10,-5.08,-5.12,-5.06,-5.10,-5.08,-5.12,-5.10,-5.06,
  -5.10,-5.08,-5.12,-5.06,-5.10,-5.12,-5.08,-5.10,-5.13,-5.08,
  -5.10,-5.12,-5.08,-5.12,-5.10,-5.13,-5.10,-5.12,-5.10,-5.14,
  -5.12,-5.10,-5.14,-5.12,-5.10,-5.14,-5.12,-5.15,-5.13,-5.16,
  -5.30,-5.18,-5.25,-5.20,-5.28,-5.22,-5.26,-5.30,-5.24,-5.20,
  -5.22,-5.28,-5.20,-5.25,-5.30,-5.22,-5.18,-5.25,-5.15,-5.22,
  -5.12,-5.25,-5.20,-5.48,-5.30,-5.55,-5.40,-5.30,-5.35,-5.25
];
const MAX_5G_5G = [
  -4.75,-4.80,-4.82,-4.85,-4.83,-4.86,-4.84,-4.88,-4.85,-4.88,
  -4.86,-4.90,-4.88,-4.92,-4.88,-4.90,-4.94,-4.90,-4.92,-4.88,
  -4.92,-4.95,-4.90,-4.94,-4.92,-4.96,-4.92,-4.95,-4.98,-4.92,
  -4.95,-4.92,-4.96,-4.94,-4.90,-4.96,-4.92,-4.95,-4.98,-4.93,
  -4.90,-4.95,-4.92,-4.96,-4.93,-4.90,-4.95,-4.92,-4.96,-4.94,
  -4.92,-4.96,-4.93,-4.90,-4.95,-4.92,-4.97,-4.94,-4.92,-4.95,
  -4.93,-4.90,-4.95,-4.92,-4.88,-4.94,-4.92,-4.96,-4.90,-4.94,
  -4.92,-4.80,-4.95,-5.05,-4.90,-4.95,-4.92,-4.98,-4.94,-4.90,
  -4.95,-4.85,-4.92,-5.00,-4.95,-4.92,-4.98,-4.94,-4.90,-4.96,
  -4.82,-4.92,-4.98,-5.05,-4.95,-4.88,-4.96,-4.92,-4.80,-5.00
];

const AVG_5G_6H = [
  -6.45,-6.15,-6.20,-6.10,-6.15,-6.12,-6.18,-6.80,-6.30,-6.45,
  -6.25,-6.38,-6.20,-6.32,-6.15,-6.28,-6.35,-6.22,-6.30,-6.18,
  -6.28,-6.15,-6.25,-6.10,-6.20,-6.05,-6.18,-6.25,-6.08,-6.20,
  -6.12,-6.05,-6.18,-6.02,-6.15,-6.10,-6.00,-6.12,-6.05,-6.15,
  -6.05,-6.12,-5.98,-6.08,-6.15,-6.02,-6.10,-6.05,-6.12,-6.00,
  -6.08,-6.00,-6.12,-5.95,-6.05,-6.10,-6.02,-6.08,-5.98,-6.05,
  -6.12,-6.18,-6.25,-6.10,-5.90,-6.05,-5.98,-6.10,-6.05,-6.18,
  -5.98,-6.10,-5.95,-6.05,-5.88,-6.00,-6.08,-5.92,-6.02,-5.95,
  -5.90,-6.05,-5.85,-5.98,-6.10,-5.88,-5.95,-5.82,-6.00,-5.88,
  -5.80,-5.95,-6.05,-5.85,-5.92,-5.78,-5.90,-6.00,-5.95,-6.00
];
const MAX_5G_6H = [
  -5.55,-5.45,-5.60,-5.50,-5.58,-5.48,-5.62,-5.52,-5.70,-5.55,
  -5.50,-5.62,-5.45,-5.58,-5.52,-5.65,-5.48,-5.55,-5.42,-5.58,
  -5.50,-5.40,-5.55,-5.45,-5.35,-5.50,-5.42,-5.55,-5.38,-5.48,
  -5.35,-5.45,-5.40,-5.30,-5.48,-5.38,-5.32,-5.45,-5.40,-5.35,
  -5.42,-5.30,-5.38,-5.45,-5.35,-5.28,-5.40,-5.35,-5.45,-5.32,
  -5.38,-5.20,-5.35,-5.42,-5.30,-5.45,-5.38,-5.50,-5.42,-5.48,
  -5.45,-5.52,-5.40,-5.55,-5.45,-5.60,-5.35,-5.20,-5.38,-5.25,
  -5.35,-5.28,-5.15,-5.32,-5.25,-5.38,-5.22,-5.30,-5.18,-5.28,
  -5.35,-5.20,-5.10,-5.30,-5.22,-5.08,-5.25,-5.15,-5.28,-4.95,
  -5.20,-5.32,-5.05,-5.28,-4.88,-5.15,-5.30,-4.95,-5.22,-5.35
];

const AVG_6H_6H = [
  -4.25,-4.26,-4.28,-4.27,-4.30,-4.30,-4.33,-4.32,-4.35,-4.36,
  -4.38,-4.40,-4.42,-4.41,-4.44,-4.45,-4.47,-4.46,-4.48,-4.50,
  -4.52,-4.50,-4.48,-4.50,-4.47,-4.50,-4.48,-4.46,-4.50,-4.48,
  -4.46,-4.48,-4.50,-4.45,-4.48,-4.44,-4.47,-4.50,-4.48,-4.46,
  -4.48,-4.50,-4.46,-4.52,-4.48,-4.50,-4.54,-4.50,-4.52,-4.55,
  -4.52,-4.56,-4.54,-4.58,-4.55,-4.60,-4.56,-4.58,-4.62,-4.58,
  -4.60,-4.64,-4.60,-4.66,-4.62,-4.58,-4.65,-4.62,-4.68,-4.64,
  -4.66,-4.70,-4.65,-4.78,-4.70,-4.75,-4.68,-4.80,-4.72,-4.76,
  -4.80,-4.78,-4.85,-4.80,-4.88,-4.78,-4.82,-4.90,-4.85,-4.80,
  -4.85,-4.90,-4.82,-4.86,-4.80,-4.84,-4.92,-4.88,-4.95,-5.00
];
const MAX_6H_6H = [
  -4.18,-4.20,-4.19,-4.22,-4.20,-4.24,-4.22,-4.25,-4.22,-4.28,
  -4.25,-4.30,-4.27,-4.32,-4.28,-4.35,-4.30,-4.33,-4.30,-4.36,
  -4.32,-4.38,-4.34,-4.30,-4.36,-4.33,-4.38,-4.35,-4.30,-4.36,
  -4.32,-4.28,-4.34,-4.30,-4.36,-4.20,-4.32,-4.28,-4.36,-4.30,
  -4.34,-4.30,-4.36,-4.32,-4.28,-4.35,-4.30,-4.38,-4.32,-4.36,
  -4.30,-4.38,-4.32,-4.40,-4.35,-4.30,-4.38,-4.34,-4.42,-4.36,
  -4.40,-4.35,-4.42,-4.38,-4.48,-4.36,-4.42,-4.50,-4.38,-4.45,
  -4.40,-4.48,-4.42,-4.55,-4.45,-4.40,-4.52,-4.45,-4.60,-4.48,
  -4.45,-4.55,-4.42,-4.50,-4.58,-4.45,-4.52,-4.40,-4.55,-4.60,
  -4.48,-4.55,-4.45,-4.65,-4.40,-4.58,-4.50,-4.62,-4.42,-4.65
];

// Panel titles (left|right orbital) in grid order, with their series
const PANELS = [
  [['1S', '1S'], AVG_1S_1S, MAX_1S_1S], [['1S', '2P'], AVG_1S_2P, MAX_1S_2P], [['1S', '3D'], AVG_1S_3D, MAX_1S_3D],
  [['1S', '4F'], AVG_1S_4F, MAX_1S_4F], [['1S', '5G'], AVG_1S_5G, MAX_1S_5G], [['1S', '6H'], AVG_1S_6H, MAX_1S_6H],
  [['2P', '2P'], AVG_2P_2P, MAX_2P_2P], [['2P', '3D'], AVG_2P_3D, MAX_2P_3D], [['2P', '4F'], AVG_2P_4F, MAX_2P_4F],
  [['2P', '5G'], AVG_2P_5G, MAX_2P_5G], [['2P', '6H'], AVG_2P_6H, MAX_2P_6H], [['3D', '3D'], AVG_3D_3D, MAX_3D_3D],
  [['3D', '4F'], AVG_3D_4F, MAX_3D_4F], [['3D', '5G'], AVG_3D_5G, MAX_3D_5G], [['3D', '6H'], AVG_3D_6H, MAX_3D_6H],
  [['4F', '4F'], AVG_4F_4F, MAX_4F_4F], [['4F', '5G'], AVG_4F_5G, MAX_4F_5G], [['4F', '6H'], AVG_4F_6H, MAX_4F_6H],
  [['5G', '5G'], AVG_5G_5G, MAX_5G_5G], [['5G', '6H'], AVG_5G_6H, MAX_5G_6H], [['6H', '6H'], AVG_6H_6H, MAX_6H_6H],
];

const X_TICKS = [1, 2, 3, 4, 5, 6];
const Y_TICK_EXP = [-10, -7, -4];

const BROWN = "#b8734f";
const COL_LEFT = [90, 532, 974];
const ROW_TOP = [69, 283, 497, 711, 925, 1139, 1353];
const PLOT_W = 359, PLOT_H = 140;
const Y_AXIS_W = 88, PAD_TOP = 40, PAD_RIGHT = 3;
const FONT = "DejaVu Sans";
const TICK_SIZE = 16.7, SUP_SIZE = 11.9, LABEL_SIZE = 17.6;

Chart.defaults.font.family = FONT;
Chart.defaults.color = "#000";

// top and right spines
const framePlugin = {
    id: "frame",
    afterDatasetsDraw(chart) {
        const { ctx, chartArea: a } = chart;
        ctx.save();
        ctx.strokeStyle = "#000";
        ctx.lineWidth = 1;
        ctx.strokeRect(a.left + 0.5, a.top + 0.5, a.right - a.left - 1, a.bottom - a.top - 1);
        ctx.restore();
    },
};

// y tick labels as 10 with a raised exponent, like matplotlib's log formatter
const powerLabels = {
    id: "powerLabels",
    afterDraw(chart) {
        const { ctx } = chart;
        const s = chart.scales.y;
        ctx.save();
        ctx.fillStyle = "#000";
        ctx.textAlign = "left";
        ctx.textBaseline = "alphabetic";
        Y_TICK_EXP.forEach((e) => {
            const y = s.getPixelForValue(Math.pow(10, e));
            const sup = "\u2212" + Math.abs(e);
            ctx.font = SUP_SIZE + "px '" + FONT + "'";
            const sw = ctx.measureText(sup).width;
            ctx.font = TICK_SIZE + "px '" + FONT + "'";
            const bw = ctx.measureText("10").width;
            const right = s.right - 8;
            const x0 = right - sw - bw - 1;
            ctx.fillText("10", x0, y + 7.3);
            ctx.font = SUP_SIZE + "px '" + FONT + "'";
            ctx.fillText(sup, x0 + bw + 1, y + 0.8);
        });
        ctx.restore();
    },
};

const fig = document.getElementById("fig");

PANELS.forEach(([pair, avg, max], i) => {
    const row = Math.floor(i / 3);
    const col = i % 3;
    const last = row === ROW_TOP.length - 1;
    const xAxisH = last ? 52 : 30;

    const canvas = document.createElement("canvas");
    const w = Y_AXIS_W + PLOT_W + PAD_RIGHT;
    const h = PAD_TOP + PLOT_H + xAxisH;
    canvas.width = w;
    canvas.height = h;
    canvas.style.left = (COL_LEFT[col] - Y_AXIS_W) + "px";
    canvas.style.top = (ROW_TOP[row] - PAD_TOP) + "px";
    canvas.style.width = w + "px";
    canvas.style.height = h + "px";
    fig.appendChild(canvas);

    const ttl = document.createElement("div");
    ttl.className = "ttl";
    ttl.style.left = COL_LEFT[col] + "px";
    ttl.style.top = (ROW_TOP[row] - 27) + "px";
    ttl.innerHTML = "(" + pair.map((p) => p[0] + "<i>" + p[1] + "</i>").join("|") + ")";
    fig.appendChild(ttl);

    const pts = (arr) => SEP.map((x, k) => ({ x: x, y: Math.pow(10, arr[k]) }));

    new Chart(canvas, {
        type: "line",
        data: {
            datasets: [
                {
                    label: "Average Error",
                    data: pts(avg),
                    borderColor: "#000",
                    borderWidth: 2,
                    pointRadius: 0,
                    borderJoinStyle: "round",
                    tension: 0,
                    order: 1,
                },
                {
                    label: "Max Error",
                    data: pts(max),
                    borderColor: BROWN,
                    borderWidth: 1.5,
                    pointRadius: 0,
                    borderJoinStyle: "round",
                    tension: 0,
                    order: 0,
                },
            ],
        },
        options: {
            responsive: false,
            animation: false,
            devicePixelRatio: 1,
            layout: { padding: { top: PAD_TOP, right: PAD_RIGHT, left: 0, bottom: 0 } },
            plugins: { legend: { display: false }, tooltip: { enabled: false } },
            scales: {
                x: {
                    type: "linear",
                    min: 0.7525,
                    max: 6.1975,
                    afterBuildTicks: (s) => { s.ticks = X_TICKS.map((v) => ({ value: v })); },
                    afterFit: (s) => { s.height = xAxisH; },
                    grid: { drawOnChartArea: false, drawTicks: true, tickLength: 5, color: "#000" },
                    border: { display: false },
                    ticks: {
                        autoSkip: false,
                        maxRotation: 0,
                        padding: 3,
                        color: "#000",
                        font: { size: TICK_SIZE },
                        callback: (v) => String(v),
                    },
                    title: {
                        display: last,
                        text: "Separation (Bohr)",
                        color: "#000",
                        font: { size: LABEL_SIZE },
                        padding: { top: 0, bottom: 2 },
                    },
                },
                y: {
                    type: "logarithmic",
                    min: 1e-10,
                    max: 1e-4,
                    afterBuildTicks: (s) => { s.ticks = Y_TICK_EXP.map((e) => ({ value: Math.pow(10, e) })); },
                    afterFit: (s) => { s.width = Y_AXIS_W; },
                    grid: { drawOnChartArea: false, drawTicks: true, tickLength: 5, color: "#000" },
                    border: { display: false },
                    ticks: { display: false },
                    title: {
                        display: col === 0,
                        text: "a.u.",
                        color: "#000",
                        font: { size: LABEL_SIZE },
                        padding: { top: 4, bottom: 0 },
                    },
                },
            },
        },
        plugins: [framePlugin, powerLabels],
    });
});
</script>
</body>
</html>
